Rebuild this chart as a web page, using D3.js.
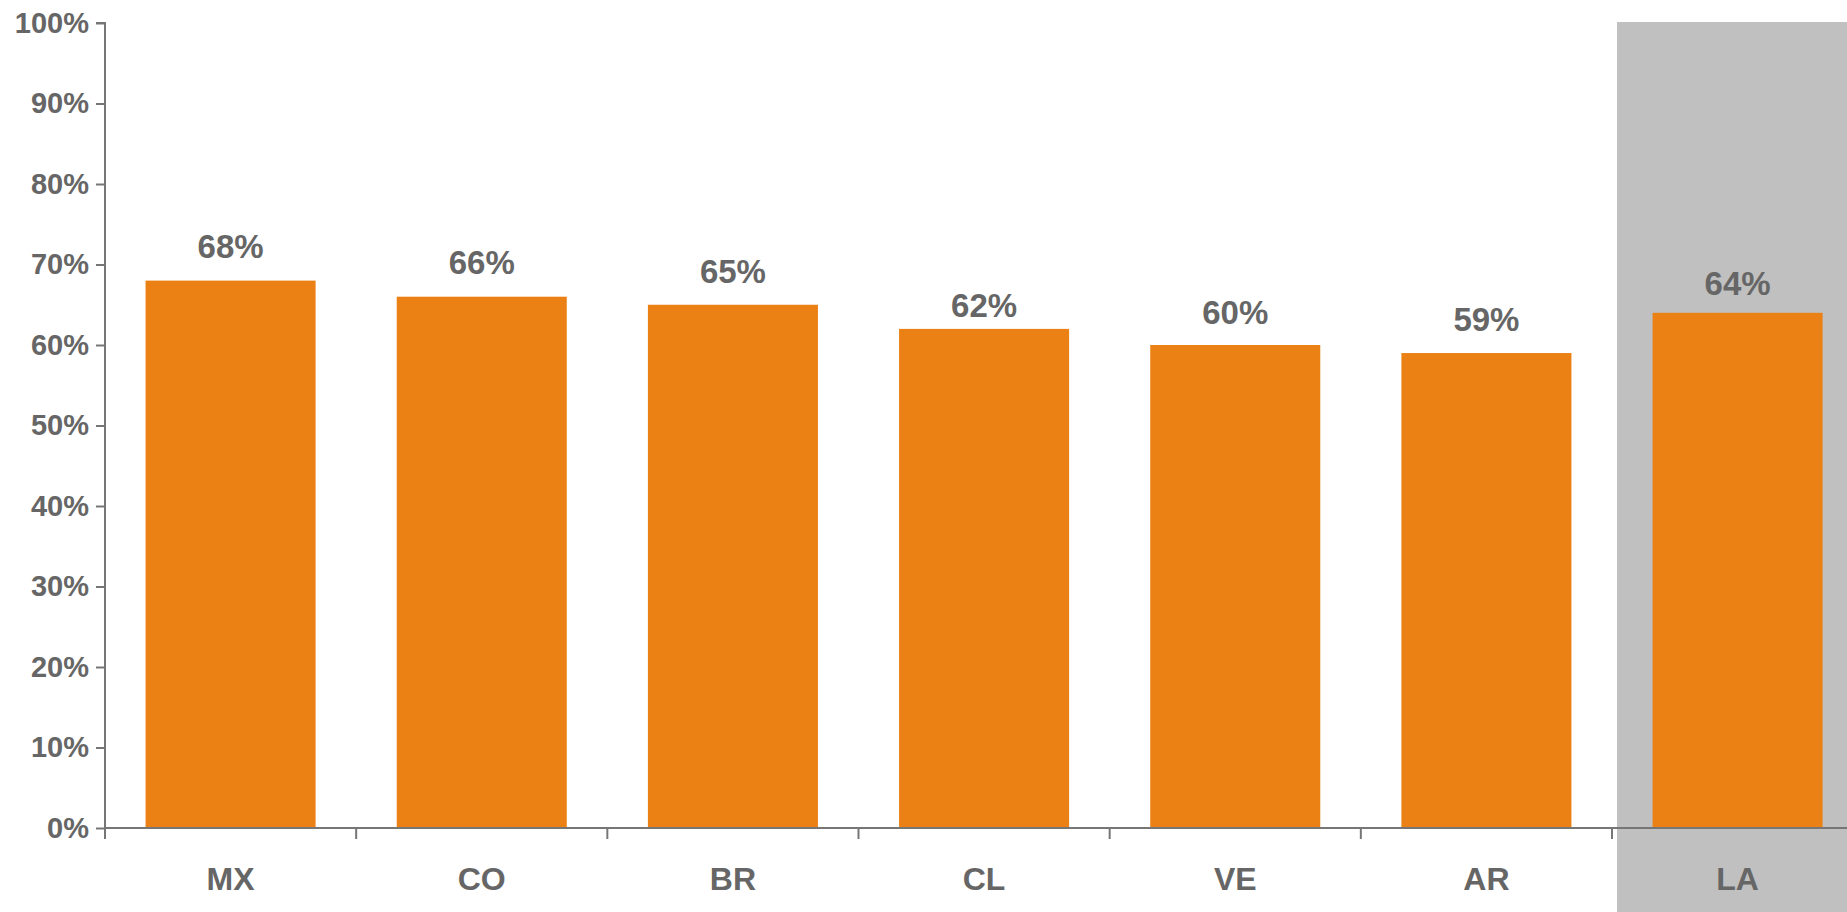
<!DOCTYPE html>
<html>
<head>
<meta charset="utf-8">
<script src="https://cdn.jsdelivr.net/npm/d3@7"></script>
<style>
  html, body { margin: 0; padding: 0; background: #fff; }
  svg { display: block; font-family: "Liberation Sans", Arial, sans-serif; }
</style>
</head>
<body>
<svg id="chart" width="1847" height="912"></svg>
<script>
const categories = ["MX", "CO", "BR", "CL", "VE", "AR", "LA"];
const values = [68, 66, 65, 62, 60, 59, 64];
const yTicks = [0, 10, 20, 30, 40, 50, 60, 70, 80, 90, 100];
const highlighted = ["LA"];

(function () {
const W = 1847, H = 912;
const mLeft = 105, mTop = 23, mBottom = 828;
const step = (1612 - mLeft) / 6;
// gap between label baseline and bar top, as placed in the original
const labelGap = [23, 23, 22, 12, 21, 22, 18];

const svg = d3.select("#chart");
const x = d3.scaleBand().domain(categories).range([mLeft, mLeft + step * categories.length]).padding(0);
const y = d3.scaleLinear().domain([0, 100]).range([mBottom, mTop]);

const textColor = "#666666";
const axisColor = "#767676";
const barColor = "#EB8014";

// highlight background
svg.selectAll("rect.hl").data(highlighted).enter().append("rect")
  .attr("class", "hl")
  .attr("x", d => x(d) + 5)
  .attr("y", mTop - 1)
  .attr("width", d => W - (x(d) + 5))
  .attr("height", H - (mTop - 1))
  .attr("fill", "#C0C0C0");

// bars
const barW = x.bandwidth() * 0.677;
svg.selectAll("rect.bar").data(categories).enter().append("rect")
  .attr("class", "bar")
  .attr("x", d => x(d) + (x.bandwidth() - barW) / 2)
  .attr("y", (d, i) => y(values[i]))
  .attr("width", barW)
  .attr("height", (d, i) => y(0) - y(values[i]))
  .attr("fill", barColor);

// value labels
svg.selectAll("text.val").data(categories).enter().append("text")
  .attr("class", "val")
  .attr("x", d => x(d) + x.bandwidth() / 2)
  .attr("y", (d, i) => y(values[i]) - labelGap[i])
  .attr("text-anchor", "middle")
  .attr("font-size", 33)
  .attr("font-weight", "bold")
  .attr("fill", textColor)
  .text((d, i) => values[i] + "%");

// y axis
const yAxis = d3.axisLeft(y).tickValues(yTicks).tickSize(9).tickPadding(7).tickFormat(d => d + "%");
const gy = svg.append("g").attr("transform", `translate(${mLeft},0)`).call(yAxis);
gy.select(".domain").attr("stroke", axisColor).attr("stroke-width", 2).attr("d", `M-9,${mTop}H0V${mBottom + 11}`);
gy.selectAll(".tick line").attr("stroke", axisColor).attr("stroke-width", 2);
gy.selectAll(".tick text")
  .attr("font-size", 29).attr("font-weight", "bold").attr("fill", textColor)
  .attr("font-family", "Liberation Sans, Arial, sans-serif");

// x axis line
svg.append("line")
  .attr("x1", mLeft).attr("x2", W)
  .attr("y1", mBottom).attr("y2", mBottom)
  .attr("stroke", axisColor).attr("stroke-width", 2);

// x ticks at band boundaries
const boundaries = categories.map(c => x(c));
svg.selectAll("line.xt").data(boundaries).enter().append("line")
  .attr("class", "xt")
  .attr("x1", d => d).attr("x2", d => d)
  .attr("y1", mBottom).attr("y2", mBottom + 11)
  .attr("stroke", axisColor).attr("stroke-width", 2);

// category labels
svg.selectAll("text.cat").data(categories).enter().append("text")
  .attr("class", "cat")
  .attr("x", d => x(d) + x.bandwidth() / 2)
  .attr("y", 890)
  .attr("text-anchor", "middle")
  .attr("font-size", 32)
  .attr("font-weight", "bold")
  .attr("fill", textColor)
  .text(d => d);
})();
</script>
</body>
</html>
